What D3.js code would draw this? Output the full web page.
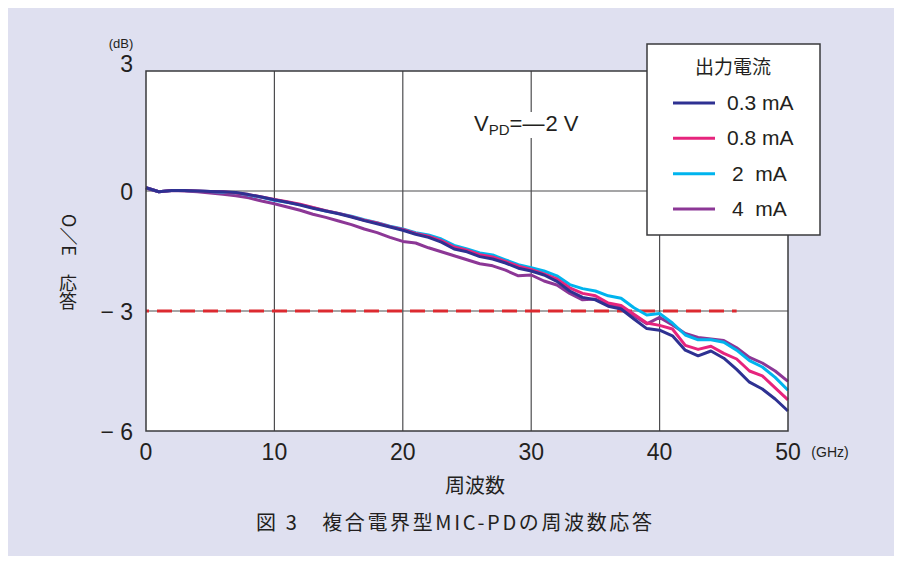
<!DOCTYPE html>
<html>
<head>
<meta charset="utf-8">
<script src="https://cdn.jsdelivr.net/npm/d3@7"></script>
<style>
  body { margin: 0; background: #ffffff; }
  svg { display: block; }
  .num { font-family: "Liberation Sans Narrow", "Liberation Sans", Arial, sans-serif; fill: #231f20; }
  .jp { font-family: "Noto Sans CJK JP", "Noto Sans", sans-serif; fill: #231f20; }
</style>
</head>
<body>
<div class="chart"></div>
<script>
const width = 904
const height = 565

// frequency (GHz)
const freq = d3.range(0, 51)

// O/E response (dB) per output current
const ma03 = [0.08, -0.02, 0.01, 0.01, 0.0, -0.01, -0.02, -0.04, -0.09, -0.15,
  -0.22, -0.28, -0.35, -0.43, -0.5, -0.57, -0.65, -0.74, -0.82, -0.9,
  -0.98, -1.08, -1.16, -1.28, -1.45, -1.52, -1.64, -1.7, -1.8, -1.93,
  -2.0, -2.1, -2.26, -2.5, -2.66, -2.72, -2.88, -2.95, -3.2, -3.44,
  -3.48, -3.62, -3.98, -4.12, -4.0, -4.18, -4.46, -4.78, -4.95, -5.2, -5.5]
const ma08 = [0.08, -0.02, 0.01, 0.01, 0.0, -0.01, -0.02, -0.05, -0.09, -0.15,
  -0.21, -0.27, -0.33, -0.41, -0.49, -0.56, -0.64, -0.73, -0.8, -0.89,
  -0.96, -1.06, -1.13, -1.24, -1.4, -1.48, -1.59, -1.65, -1.76, -1.88,
  -1.96, -2.07, -2.2, -2.42, -2.56, -2.62, -2.8, -2.86, -3.08, -3.3,
  -3.36, -3.45, -3.86, -3.96, -3.88, -4.06, -4.2, -4.5, -4.62, -4.92, -5.22]
const ma2 = [0.08, -0.02, 0.01, 0.01, 0.0, -0.01, -0.03, -0.05, -0.1, -0.16,
  -0.23, -0.28, -0.34, -0.42, -0.5, -0.56, -0.63, -0.72, -0.79, -0.88,
  -0.95, -1.04, -1.1, -1.2, -1.36, -1.45, -1.55, -1.6, -1.72, -1.84,
  -1.92, -2.0, -2.12, -2.34, -2.44, -2.5, -2.62, -2.68, -2.92, -3.1,
  -3.06, -3.3, -3.6, -3.72, -3.72, -3.78, -3.98, -4.24, -4.4, -4.66, -4.98]
const ma4 = [0.08, -0.02, 0.01, 0.0, -0.02, -0.05, -0.08, -0.12, -0.17, -0.25,
  -0.32, -0.4, -0.48, -0.58, -0.66, -0.75, -0.84, -0.95, -1.04, -1.16,
  -1.26, -1.3, -1.42, -1.52, -1.62, -1.72, -1.82, -1.87, -1.98, -2.12,
  -2.1, -2.25, -2.35, -2.56, -2.72, -2.7, -2.84, -2.9, -3.12, -3.32,
  -3.16, -3.35, -3.56, -3.66, -3.7, -3.74, -3.92, -4.16, -4.3, -4.5, -4.76]

const seriesNames = ["0.3 mA", "0.8 mA", "2  mA", "4  mA"]
const seriesColors = ["#2e3192", "#e6247d", "#00b4ee", "#8c3796"]
const seriesValues = [ma03, ma08, ma2, ma4]

const xTicks = [0, 10, 20, 30, 40, 50]
const yTicks = [3, 0, -3, -6]
const yTickLabels = ["3", "0", "\u2212 3", "\u2212 6"]
const cutoff = -3

const svg = d3.select(".chart").append("svg")
    .attr("width", width)
    .attr("height", height)

// lavender panel
svg.append("rect")
    .attr("x", 8).attr("y", 8)
    .attr("width", 886).attr("height", 548)
    .attr("fill", "#dfe0f0")

const x = d3.scaleLinear().domain([0, 50]).range([146, 788])
const y = d3.scaleLinear().domain([-6, 3]).range([431, 71])

svg.append("rect")
    .attr("x", x(0)).attr("y", y(3))
    .attr("width", x(50) - x(0)).attr("height", y(-6) - y(3))
    .attr("fill", "#ffffff")

// grid
svg.selectAll(".vgrid")
    .data(xTicks.slice(1, -1))
    .enter().append("line")
    .attr("x1", d => x(d)).attr("x2", d => x(d))
    .attr("y1", y(3)).attr("y2", y(-6))
    .attr("stroke", "#4d4d4f").attr("stroke-width", 1.2)

svg.selectAll(".hgrid")
    .data([0, -3])
    .enter().append("line")
    .attr("x1", x(0)).attr("x2", x(50))
    .attr("y1", d => y(d)).attr("y2", d => y(d))
    .attr("stroke", "#4d4d4f").attr("stroke-width", 1.2)

// -3 dB reference
svg.append("line")
    .attr("x1", x(0)).attr("x2", x(46))
    .attr("y1", y(cutoff)).attr("y2", y(cutoff))
    .attr("stroke", "#dc2a30").attr("stroke-width", 3.2)
    .attr("stroke-dasharray", "15,8")
    .attr("stroke-dashoffset", 12)

// curves
const line = d3.line()
    .x((d, i) => x(freq[i]))
    .y(d => y(d))

svg.selectAll(".curve")
    .data([3, 2, 1, 0])
    .enter().append("path")
    .attr("d", i => line(seriesValues[i]))
    .attr("fill", "none")
    .attr("stroke", i => seriesColors[i])
    .attr("stroke-width", 3)
    .attr("stroke-linejoin", "round")

// plot frame
svg.append("rect")
    .attr("x", x(0)).attr("y", y(3))
    .attr("width", x(50) - x(0)).attr("height", y(-6) - y(3))
    .attr("fill", "none")
    .attr("stroke", "#3a3a3c").attr("stroke-width", 1.5)

// axis labels
svg.selectAll(".ylab")
    .data(yTicks)
    .enter().append("text")
    .attr("class", "num")
    .attr("x", 133)
    .attr("y", d => d === 3 ? y(d) + 1 : y(d) + 9)
    .attr("text-anchor", "end")
    .attr("font-size", 23)
    .style("white-space", "pre")
    .text((d, i) => yTickLabels[i])

svg.selectAll(".xlab")
    .data(xTicks)
    .enter().append("text")
    .attr("class", "num")
    .attr("x", d => x(d))
    .attr("y", 460)
    .attr("text-anchor", "middle")
    .attr("font-size", 23)
    .text(d => d)

svg.append("text").attr("class", "num")
    .attr("x", 121).attr("y", 48)
    .attr("text-anchor", "middle")
    .attr("font-size", 13)
    .text("(dB)")

svg.append("text").attr("class", "num")
    .attr("x", 830).attr("y", 457)
    .attr("text-anchor", "middle")
    .attr("font-size", 14)
    .text("(GHz)")

svg.append("text").attr("class", "jp")
    .attr("x", 475).attr("y", 493)
    .attr("text-anchor", "middle")
    .attr("font-size", 20)
    .text("周波数")

// vertical axis title: latin part turned, kanji upright
svg.append("text").attr("class", "jp")
    .attr("transform", "translate(62,214) rotate(90)")
    .attr("font-size", 18)
    .text("O／E")

svg.append("text").attr("class", "jp")
    .attr("x", 68).attr("y", 274)
    .attr("font-size", 18)
    .style("writing-mode", "vertical-rl")
    .style("text-orientation", "upright")
    .text("応答")

svg.append("text").attr("class", "jp")
    .attr("x", 256).attr("y", 530)
    .attr("font-size", 20)
    .attr("textLength", 396)
    .attr("lengthAdjust", "spacing")
    .style("white-space", "pre")
    .text("図 3　複合電界型MIC-PDの周波数応答")

// V_PD annotation
svg.append("rect")
    .attr("x", 472).attr("y", 112)
    .attr("width", 104).attr("height", 26)
    .attr("fill", "#ffffff")

const vpd = svg.append("text").attr("class", "num")
    .attr("x", 474).attr("y", 131)
    .attr("font-size", 22)
vpd.append("tspan").text("V")
vpd.append("tspan").attr("font-size", 15).attr("dy", 4).text("PD")
vpd.append("tspan").attr("dy", -4).text("=\u2014")
vpd.append("tspan").attr("dx", 1).text("2 V")

// legend
const legend = svg.append("g")

legend.append("rect")
    .attr("x", 647).attr("y", 44)
    .attr("width", 173).attr("height", 191)
    .attr("fill", "#ffffff")
    .attr("stroke", "#3a3a3c").attr("stroke-width", 1.5)

legend.append("text").attr("class", "jp")
    .attr("x", 733).attr("y", 74)
    .attr("text-anchor", "middle")
    .attr("font-size", 19)
    .text("出力電流")

const legendY = d3.scalePoint().domain(seriesNames).range([103, 209])

legend.selectAll(".lline")
    .data(seriesNames)
    .enter().append("line")
    .attr("x1", 673).attr("x2", 715)
    .attr("y1", d => legendY(d)).attr("y2", d => legendY(d))
    .attr("stroke", (d, i) => seriesColors[i])
    .attr("stroke-width", 3)

legend.selectAll(".ltext")
    .data(seriesNames)
    .enter().append("text")
    .attr("class", "num")
    .attr("x", (d, i) => i < 2 ? 727 : 732)
    .attr("y", d => legendY(d) + 7)
    .attr("font-size", 21)
    .style("white-space", "pre")
    .text(d => d)
</script>
</body>
</html>
